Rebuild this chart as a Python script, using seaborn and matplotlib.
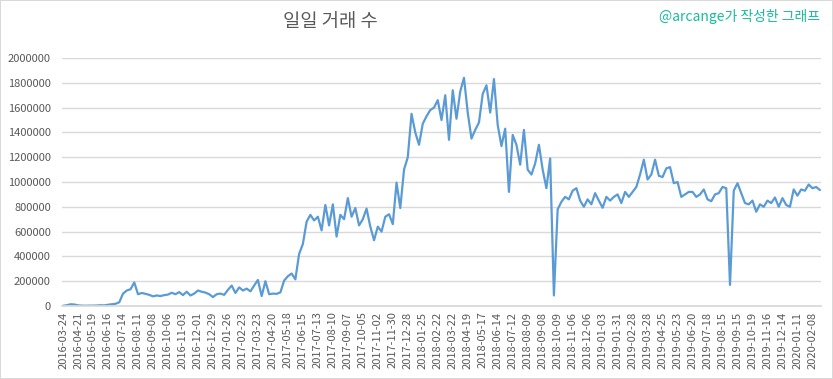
# Graphique : nombre de transactions quotidiennes (Steem), 2016-03 -> 2020-02
import numpy as np
import pandas as pd
import matplotlib.pyplot as plt
import seaborn as sns

# Libelles de l'axe x (une etiquette toutes les 28 lignes de donnees)
date_labels = [
    "2016-03-24", "2016-04-21", "2016-05-19", "2016-06-16", "2016-07-14",
    "2016-08-11", "2016-09-08", "2016-10-06", "2016-11-03", "2016-12-01",
    "2016-12-29", "2017-01-26", "2017-02-23", "2017-03-23", "2017-04-20",
    "2017-05-18", "2017-06-15", "2017-07-13", "2017-08-10", "2017-09-07",
    "2017-10-05", "2017-11-02", "2017-11-30", "2017-12-28", "2018-01-25",
    "2018-02-22", "2018-03-22", "2018-04-19", "2018-05-17", "2018-06-14",
    "2018-07-12", "2018-08-09", "2018-09-08", "2018-10-09", "2018-11-06",
    "2018-12-06", "2019-01-03", "2019-01-31", "2019-02-28", "2019-03-28",
    "2019-04-25", "2019-05-23", "2019-06-20", "2019-07-18", "2019-08-15",
    "2019-09-15", "2019-10-19", "2019-11-16", "2019-12-14", "2020-01-11",
    "2020-02-08",
]

# Nombre de transactions, une valeur toutes les 7 lignes (4 par etiquette)
daily_tx = [
    2000, 6000, 14000, 12000,              # 2016-03-24
    5000, 3000, 2000, 3000,
    3000, 4000, 6000, 5000,
    10000, 14000, 18000, 30000,
    100000, 125000, 135000, 190000,        # 2016-07-14
    95000, 105000, 98000, 90000,
    78000, 85000, 80000, 88000,
    92000, 107000, 95000, 112000,
    88000, 115000, 85000, 100000,
    125000, 115000, 108000, 95000,         # 2016-12-01
    72000, 95000, 100000, 90000,
    130000, 165000, 105000, 150000,
    125000, 140000, 118000, 165000,
    210000, 80000, 200000, 95000,
    100000, 98000, 110000, 205000,         # 2017-04-20
    240000, 262000, 215000, 420000,
    500000, 680000, 735000, 690000,
    720000, 610000, 815000, 650000,
    820000, 560000, 735000, 700000,
    870000, 720000, 790000, 650000,        # 2017-09-07
    700000, 785000, 640000, 530000,
    640000, 600000, 720000, 740000,
    660000, 995000, 790000, 1100000,
    1200000, 1550000, 1400000, 1300000,
    1470000, 1530000, 1580000, 1600000,    # 2018-01-25
    1660000, 1500000, 1700000, 1340000,
    1740000, 1510000, 1730000, 1840000,
    1560000, 1350000, 1420000, 1480000,
    1710000, 1780000, 1560000, 1830000,
    1460000, 1290000, 1430000, 920000,     # 2018-06-14
    1380000, 1300000, 1140000, 1420000,
    1100000, 1060000, 1150000, 1300000,
    1100000, 950000, 1190000, 85000,
    780000, 840000, 880000, 860000,
    930000, 950000, 850000, 800000,        # 2018-11-06
    860000, 820000, 910000, 850000,
    792000, 880000, 850000, 880000,
    900000, 830000, 920000, 880000,
    920000, 960000, 1060000, 1180000,
    1020000, 1060000, 1180000, 1050000,    # 2019-03-28
    1040000, 1110000, 1120000, 990000,
    1000000, 880000, 900000, 920000,
    920000, 880000, 900000, 940000,
    860000, 845000, 900000, 910000,
    960000, 950000, 170000, 930000,        # 2019-08-15
    990000, 910000, 830000, 820000,
    850000, 760000, 820000, 800000,
    850000, 830000, 875000, 800000,
    870000, 815000, 800000, 940000,
    890000, 940000, 930000, 980000,        # 2020-01-11
    950000, 960000, 935000,
]

SAMPLE_STEP = 7
LABEL_STEP = 28

df = pd.DataFrame({
    "ligne": np.arange(len(daily_tx)) * SAMPLE_STEP,
    "transactions": daily_tx,
})

sns.set_theme(style="whitegrid")
plt.rcParams["font.family"] = ["Noto Sans CJK KR", "DejaVu Sans"]

fig = plt.figure(figsize=(8.33, 3.79), dpi=100, edgecolor="#D9D9D9", linewidth=1.2)
ax = fig.add_axes([62 / 833, 1 - 306 / 379, 759 / 833, 248 / 379])

sns.lineplot(data=df, x="ligne", y="transactions", ax=ax, color="#5B9BD5", linewidth=1.6)

ax.set_xlim(-2, 1416)
ax.set_ylim(0, 2000000)
ax.set_yticks(range(0, 2000001, 200000))
ax.set_yticklabels([str(v) for v in range(0, 2000001, 200000)])
ax.set_xticks(np.arange(len(date_labels)) * LABEL_STEP)
ax.set_xticklabels(date_labels, rotation=90)

ax.set_facecolor("white")
ax.grid(axis="y", color="#D9D9D9", linewidth=1)
ax.grid(axis="x", visible=False)
for s in ["left", "right", "top"]:
    ax.spines[s].set_visible(False)
ax.spines["bottom"].set_color("#D9D9D9")
ax.tick_params(axis="both", colors="#595959", labelsize=8, length=0)
ax.tick_params(axis="y", pad=8)
ax.tick_params(axis="x", pad=4)
ax.set_xlabel("")
ax.set_ylabel("")

fig.text(330 / 833, 1 - 22 / 379, "일일 거래 수", ha="center", va="center",
         fontsize=13.5, color="#595959")
fig.text(820 / 833, 1 - 17 / 379, "@arcange가 작성한 그래프", ha="right", va="center",
         fontsize=10, color="#1ABC9C")

fig.savefig("out.png", dpi=100)
